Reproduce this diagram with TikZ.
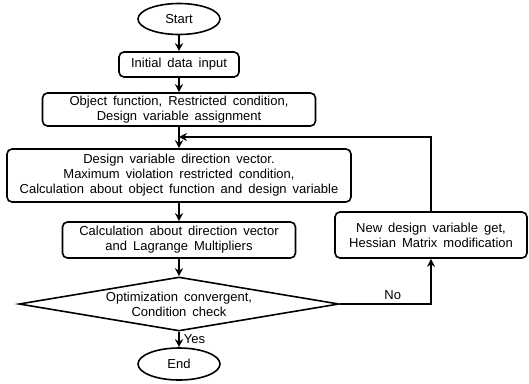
\documentclass[tikz,border=0pt]{standalone}
\usepackage{fontspec}
\setmainfont{Liberation Sans}
\usetikzlibrary{shapes.geometric,arrows.meta}
\newcommand\flowfont{\fontsize{13}{15}\selectfont\spaceskip=6pt plus 1pt\relax}

\begin{document}
\begin{tikzpicture}[x=1pt,y=-1pt,font=\flowfont,
  box/.style={draw,line width=1.6pt,rounded corners=5pt,align=center,inner sep=0pt},
  term/.style={draw,ellipse,line width=1.6pt,minimum width=82pt,minimum height=31pt,inner sep=0pt},
  decision/.style={draw,diamond,line width=1.6pt,minimum width=320pt,minimum height=54pt,inner sep=0pt},
  arr/.style={line width=1.8pt,-{Stealth[length=8pt,width=8pt]}}]
\useasboundingbox (0,0) rectangle (529,383);
\node[term] (start) at (179,19) {Start};
\node[box,minimum width=120pt,minimum height=25pt] (init) at (179,64.5) {Initial data input};
\node[box,minimum width=273pt,minimum height=33pt] (object) at (179,109.5)
  {Object function, Restricted condition,\\Design variable assignment};
\node[box,minimum width=344pt,minimum height=53pt] (design) at (179,175.5)
  {Design variable direction vector.\\Maximum violation restricted condition,\\Calculation about object function and design variable};
\node[box,minimum width=233pt,minimum height=36pt] (calc) at (179,240)
  {Calculation about direction vector\\and Lagrange Multipliers};
\node[decision] (check) at (179,304) {};
\node[align=center] (checktext) at (check) {Optimization convergent,\\Condition check};
\node[term,minimum height=32pt] (end) at (179,364) {End};
\node[box,minimum width=192pt,minimum height=46pt] (hess) at (431,235)
  {New design variable get,\\Hessian Matrix modification};
\coordinate (join) at (179,137);
% main flow
\draw[arr] (start) -- (init);
\draw[arr] (init) -- (object);
\draw[arr] (object) -- (design);
\draw[arr] (design) -- (calc);
\draw[arr] (calc) -- (check);
\draw[arr] (check) -- node[right,inner sep=4pt] {Yes} (end);
% loop back
\draw[arr] (check.east) -| node[above,pos=0.29] {No} (hess.south);
\draw[arr] (hess.north) |- (join);
\end{tikzpicture}
\end{document}
